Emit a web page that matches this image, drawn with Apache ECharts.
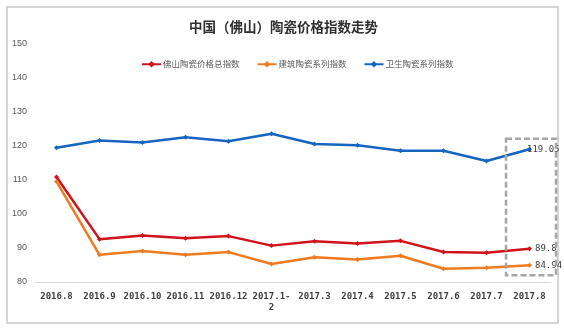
<!DOCTYPE html>
<html>
<head>
<meta charset="utf-8">
<script src="https://cdn.jsdelivr.net/npm/echarts@6/dist/echarts.min.js"></script>
<style>
  html, body { margin: 0; padding: 0; background: #fff; }
  #chart { width: 564px; height: 329px; }
</style>
</head>
<body>
<div id="chart"></div>
<script>
// Monthly periods on the x axis
const months = ['2016.8', '2016.9', '2016.10', '2016.11', '2016.12', '2017.1-2',
                '2017.3', '2017.4', '2017.5', '2017.6', '2017.7', '2017.8'];

// Index series
const totalIndex    = [110.9, 92.6, 93.7, 92.9, 93.5, 90.7, 92.0, 91.3, 92.1, 88.8, 88.6, 89.8];
const buildingIndex = [109.5, 88.0, 89.1, 88.0, 88.8, 85.3, 87.3, 86.6, 87.7, 83.9, 84.2, 84.94];
const sanitaryIndex = [119.5, 121.6, 121.0, 122.6, 121.4, 123.6, 120.6, 120.2, 118.6, 118.6, 115.6, 119.05];

const seriesNames = ['佛山陶瓷价格总指数', '建筑陶瓷系列指数', '卫生陶瓷系列指数'];
const yTicks = { min: 80, max: 150, step: 10 };

const chart = echarts.init(document.getElementById('chart'), null, { renderer: 'canvas' });

const monoFont = '"DejaVu Sans Mono", "Liberation Mono", monospace';

function makeSeries(name, values, color, labelOffset) {
  const last = values.length - 1;
  return {
    name: name,
    type: 'line',
    symbol: 'diamond',
    symbolSize: 5,
    lineStyle: { width: 2.5, color: color },
    itemStyle: { color: color },
    data: values.map((v, i) => i === last ? {
      value: v,
      label: {
        show: true,
        position: 'right',
        distance: 3,
        offset: labelOffset,
        color: '#404040',
        fontSize: 9,
        fontFamily: monoFont,
        formatter: p => String(p.value)
      }
    } : v),
    z: 3
  };
}

chart.setOption({
  backgroundColor: '#fff',
  animation: false,
  title: {
    text: '中国（佛山）陶瓷价格指数走势',
    left: 184,
    top: 15,
    textStyle: {
      fontSize: 13.5,
      fontWeight: 'bold',
      color: '#303030',
      fontFamily: '"Noto Sans CJK SC", sans-serif'
    }
  },
  legend: {
    left: 136,
    top: 55,
    itemWidth: 19,
    itemHeight: 8,
    itemGap: 17,
    textStyle: {
      fontSize: 8.5,
      color: '#595959',
      padding: [0, 0, 0, -3],
      fontFamily: '"Noto Sans CJK SC", sans-serif'
    },
    data: seriesNames
  },
  grid: { left: 35, right: 13, top: 44, bottom: 47 },
  xAxis: {
    type: 'category',
    data: months,
    boundaryGap: true,
    axisLine: { lineStyle: { color: '#d9d9d9', width: 1 } },
    axisTick: { show: false },
    axisLabel: {
      interval: 0,
      margin: 9,
      color: '#404040',
      fontSize: 9,
      fontWeight: 'bold',
      fontFamily: monoFont,
      lineHeight: 11,
      formatter: v => v.length > 7 ? v.slice(0, 7) + '\n' + v.slice(7) : v
    }
  },
  yAxis: {
    type: 'value',
    min: yTicks.min,
    max: yTicks.max,
    interval: yTicks.step,
    axisLine: { show: false },
    axisTick: { show: false },
    splitLine: { show: false },
    axisLabel: {
      margin: 8,
      color: '#595959',
      fontSize: 9,
      fontFamily: '"Liberation Sans", Arial, sans-serif'
    }
  },
  series: [
    makeSeries(seriesNames[0], totalIndex, '#d0121b', [0, 0]),
    makeSeries(seriesNames[1], buildingIndex, '#f07b1e', [0, 0]),
    makeSeries(seriesNames[2], sanitaryIndex, '#1565c0', [-8, 0])
  ]
});

// Outer frame plus a dashed box highlighting the latest period
function drawDecorations() {
  const lastIdx = months.length - 1;
  const lastVals = [totalIndex[lastIdx], buildingIndex[lastIdx], sanitaryIndex[lastIdx]];
  const hi = chart.convertToPixel({ gridIndex: 0 }, [months[lastIdx], Math.max(...lastVals)]);
  const lo = chart.convertToPixel({ gridIndex: 0 }, [months[lastIdx], Math.min(...lastVals)]);
  const cx = hi[0] + 1.5;
  const halfW = 25;
  const top = hi[1] - 10.5;
  const bottom = lo[1] + 10;
  chart.setOption({
    graphic: [
      {
        type: 'rect',
        shape: { x: 7, y: 7, width: 551, height: 316 },
        style: { fill: 'none', stroke: '#c8c8c8', lineWidth: 1.5 },
        silent: true,
        z: 0
      },
      {
        type: 'rect',
        shape: { x: cx - halfW, y: top, width: halfW * 2, height: bottom - top },
        style: { fill: 'none', stroke: '#a6a6a6', lineWidth: 2.5, lineDash: [6, 3] },
        silent: true,
        z: 10
      }
    ]
  });
}
drawDecorations();
</script>
</body>
</html>
